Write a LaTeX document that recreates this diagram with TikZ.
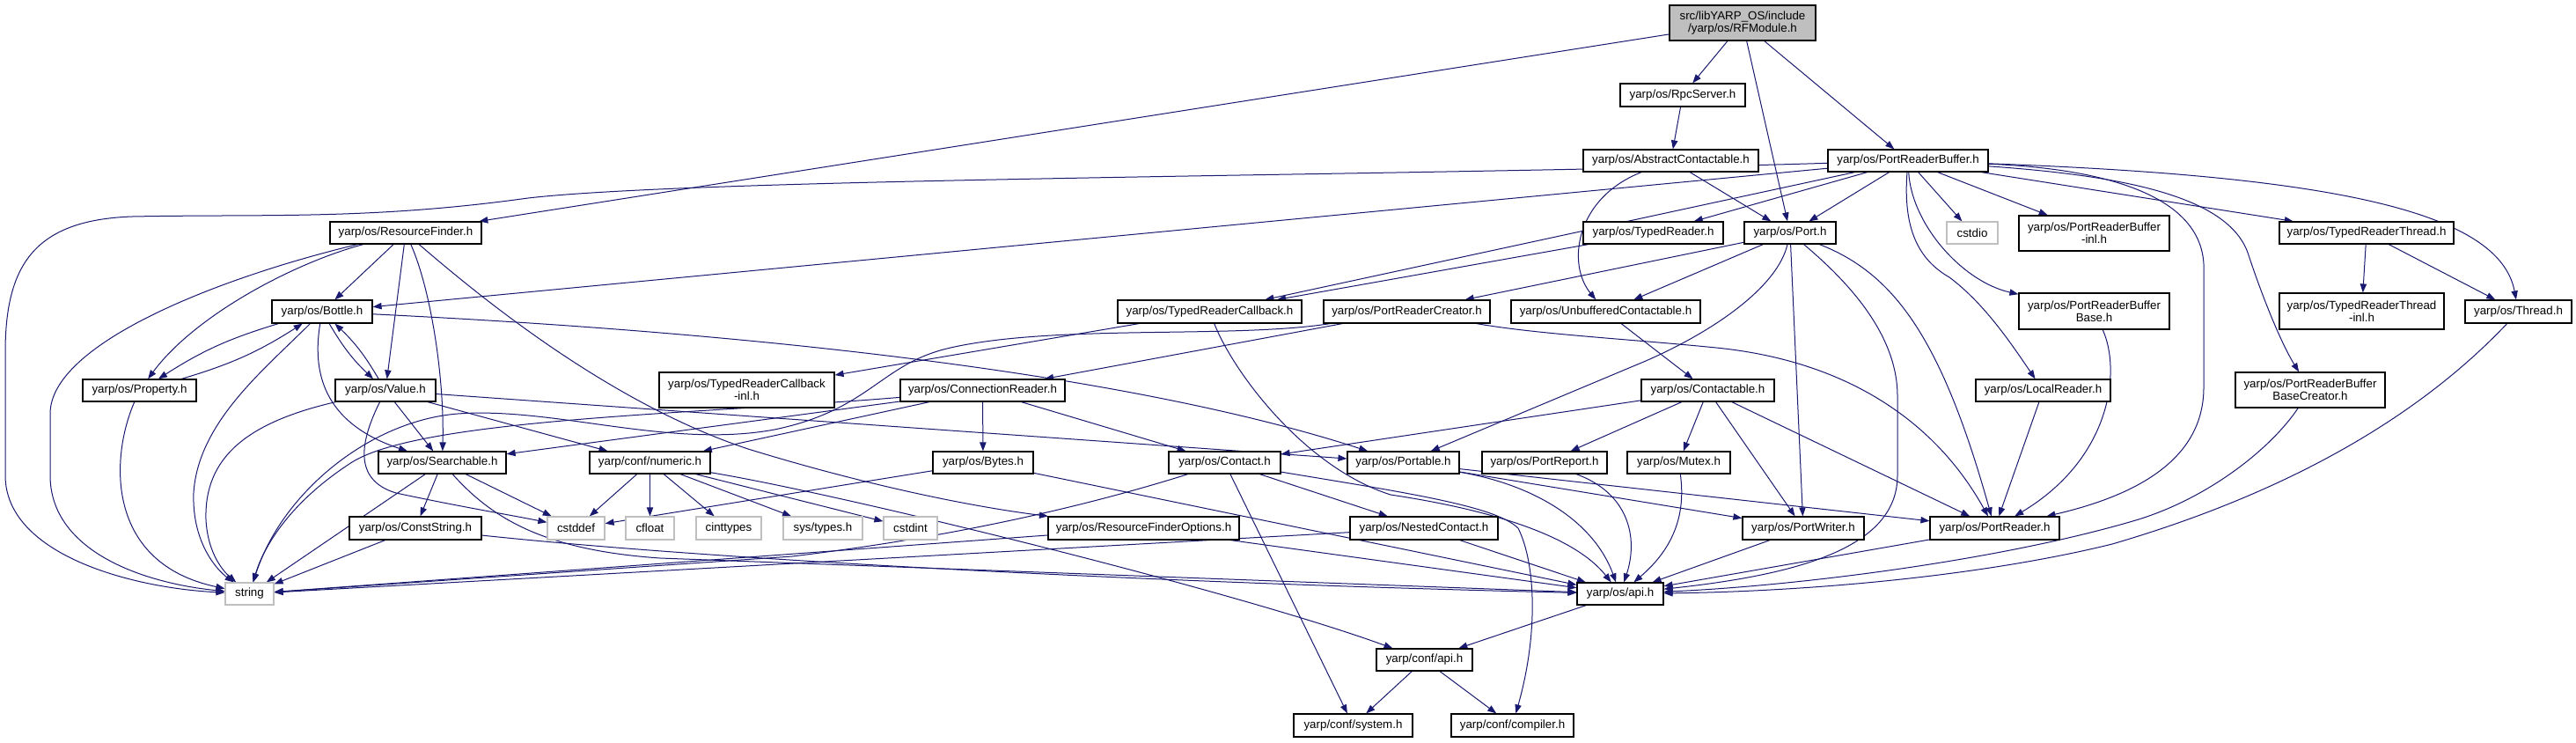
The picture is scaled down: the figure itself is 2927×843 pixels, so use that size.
\documentclass[tikz,border=0pt]{standalone}
\usepackage{fontspec}
\setmainfont{Liberation Sans}
\usetikzlibrary{arrows.meta}
\pgfdeclarelayer{bg}
\pgfsetlayers{bg,main}
\definecolor{edgec}{HTML}{191970}
\definecolor{lightg}{HTML}{BFBFBF}
\definecolor{rootg}{HTML}{BFBFBF}
\tikzset{
  nd/.style={draw=black, line width=0.9pt, rectangle, inner sep=0pt, align=center,
    font=\fontsize{10}{10.5}\selectfont, fill=white},
  sys/.style={nd, draw=lightg},
  rootnode/.style={nd, fill=rootg},
  sz/.style 2 args={minimum width=#1*0.75pt, minimum height=#2*0.75pt},
  dep/.style={draw=edgec, line width=0.75pt, -{Triangle[length=7.5pt,width=5.5pt]}},
}
\begin{document}
\begin{tikzpicture}[x=0.75pt,y=-0.75pt]
\useasboundingbox (0,0) rectangle (2927,843);
\begin{pgfonlayer}{bg}
\fill[white] (0,0) rectangle (2927,843);
\end{pgfonlayer}
% nodes
\node[rootnode,sz={166}{40}] (rfm) at (1980,26) {src/libYARP\_OS/include\\/yarp/os/RFModule.h};
\node[nd,sz={142}{26}] (rpc) at (1912,108) {yarp/os/RpcServer.h};
\node[nd,sz={199}{25}] (absc) at (1898.5,182.5) {yarp/os/AbstractContactable.h};
\node[nd,sz={182}{25}] (prb) at (2168,182.5) {yarp/os/PortReaderBuffer.h};
\node[nd,sz={172}{25}] (rf) at (461,264.5) {yarp/os/ResourceFinder.h};
\node[nd,sz={159}{25}] (tr) at (1878.5,264.5) {yarp/os/TypedReader.h};
\node[nd,sz={104}{25}] (port) at (2034,264.5) {yarp/os/Port.h};
\node[sys,sz={58}{25}] (cstdio) at (2241,264.5) {cstdio};
\node[nd,sz={171}{40}] (prbinl) at (2379.5,265) {yarp/os/PortReaderBuffer\\-inl.h};
\node[nd,sz={198}{25}] (trt) at (2689,264.5) {yarp/os/TypedReaderThread.h};
\node[nd,sz={114}{26}] (bottle) at (366,354) {yarp/os/Bottle.h};
\node[nd,sz={209}{26}] (trc) at (1374.5,354) {yarp/os/TypedReaderCallback.h};
\node[nd,sz={189}{26}] (prc) at (1598.5,354) {yarp/os/PortReaderCreator.h};
\node[nd,sz={215}{26}] (ubc) at (1824.5,354) {yarp/os/UnbufferedContactable.h};
\node[nd,sz={171}{41}] (prbbase) at (2379.5,353.5) {yarp/os/PortReaderBuffer\\Base.h};
\node[nd,sz={187}{41}] (trtinl) at (2683.5,353.5) {yarp/os/TypedReaderThread\\-inl.h};
\node[nd,sz={121}{26}] (thread) at (2861.5,354) {yarp/os/Thread.h};
\node[nd,sz={129}{25}] (property) at (158.5,443.5) {yarp/os/Property.h};
\node[nd,sz={114}{25}] (value) at (438,443.5) {yarp/os/Value.h};
\node[nd,sz={199}{40}] (trcinl) at (848.5,443) {yarp/os/TypedReaderCallback\\-inl.h};
\node[nd,sz={187}{25}] (cr) at (1116.5,443.5) {yarp/os/ConnectionReader.h};
\node[nd,sz={151}{25}] (contactable) at (1940.5,443.5) {yarp/os/Contactable.h};
\node[nd,sz={153}{25}] (localreader) at (2321.5,443.5) {yarp/os/LocalReader.h};
\node[nd,sz={170}{40}] (prbbc) at (2625,443) {yarp/os/PortReaderBuffer\\BaseCreator.h};
\node[nd,sz={145}{25}] (searchable) at (502.5,525.5) {yarp/os/Searchable.h};
\node[nd,sz={137}{25}] (numeric) at (738.5,525.5) {yarp/conf/numeric.h};
\node[nd,sz={114}{25}] (bytes) at (1117,525.5) {yarp/os/Bytes.h};
\node[nd,sz={127}{25}] (contact) at (1391.5,525.5) {yarp/os/Contact.h};
\node[nd,sz={127}{25}] (portable) at (1594.5,525.5) {yarp/os/Portable.h};
\node[nd,sz={142}{25}] (portreport) at (1755,525.5) {yarp/os/PortReport.h};
\node[nd,sz={117}{25}] (mutex) at (1907.5,525.5) {yarp/os/Mutex.h};
\node[nd,sz={150}{26}] (conststring) at (472,600) {yarp/os/ConstString.h};
\node[sys,sz={65}{26}] (cstddef) at (654.5,600) {cstddef};
\node[sys,sz={55}{26}] (cfloat) at (738.5,600) {cfloat};
\node[sys,sz={74}{26}] (cinttypes) at (828,600) {cinttypes};
\node[sys,sz={90}{26}] (systypes) at (935,600) {sys/types.h};
\node[sys,sz={61}{26}] (cstdint) at (1034.5,600) {cstdint};
\node[nd,sz={217}{26}] (rfo) at (1299.5,600) {yarp/os/ResourceFinderOptions.h};
\node[nd,sz={168}{26}] (nested) at (1618,600) {yarp/os/NestedContact.h};
\node[nd,sz={138}{26}] (portwriter) at (2049,600) {yarp/os/PortWriter.h};
\node[nd,sz={147}{26}] (portreader) at (2266.5,600) {yarp/os/PortReader.h};
\node[sys,sz={55}{25}] (string) at (283.5,674.5) {string};
\node[nd,sz={98}{25}] (api) at (1841,674.5) {yarp/os/api.h};
\node[nd,sz={109}{25}] (confapi) at (1618.5,749.5) {yarp/conf/api.h};
\node[nd,sz={135}{26}] (system) at (1537.5,824) {yarp/conf/system.h};
\node[nd,sz={139}{26}] (compiler) at (1718.5,824) {yarp/conf/compiler.h};
% edges
\begin{pgfonlayer}{bg}
\draw[dep] (rfm) -- (rf);
\draw[dep] (rfm) -- (rpc);
\draw[dep] (rfm) -- (port);
\draw[dep] (rfm) -- (prb);
\draw[dep] (rpc) -- (absc);
\draw[dep] (absc) -- (port);
\draw[dep] (absc) .. controls (1790,225) and (1780,300) .. (ubc);
% PortReaderBuffer
\draw[dep] (prb) .. controls (1600,200) and (800,202) .. (600,225) .. controls (420,250) and (300,243) .. (150,246) .. controls (40,250) and (6,300) .. (6,400) -- (6,540) .. controls (6,630) and (150,668) .. (string);
\draw[dep] (prb) -- (bottle);
\draw[dep] (prb) -- (trc);
\draw[dep] (prb) -- (tr);
\draw[dep] (prb) -- (port);
\draw[dep] (prb) -- (cstdio);
\draw[dep] (prb) -- (prbinl);
\draw[dep] (prb) .. controls (2172,255) and (2230,320) .. (prbbase);
\draw[dep] (prb) .. controls (2162,260) and (2180,295) .. (2215,315) .. controls (2255,345) and (2285,390) .. (localreader);
\draw[dep] (prb) .. controls (2400,192) and (2500,225) .. (2504,300) -- (2504,440) .. controls (2504,515) and (2440,560) .. (portreader);
\draw[dep] (prb) .. controls (2420,200) and (2535,225) .. (2555,290) .. controls (2575,350) and (2595,395) .. (prbbc);
\draw[dep] (prb) -- (trt);
\draw[dep] (prb) .. controls (2650,200) and (2840,240) .. (thread);
\draw[dep] (trt) -- (trtinl);
\draw[dep] (trt) -- (thread);
\draw[dep] (tr) -- (trc);
% Port
\draw[dep] (port) -- (prc);
\draw[dep] (port) -- (ubc);
\draw[dep] (port) .. controls (2020,325) and (1950,375) .. (1870,410) -- (portable);
\draw[dep] (port) -- (portwriter);
\draw[dep] (port) .. controls (2100,320) and (2156,380) .. (2156,450) -- (2156,540) .. controls (2156,620) and (2050,652) .. (api);
\draw[dep] (port) .. controls (2150,310) and (2205,380) .. (portreader);
% PortReaderCreator
\draw[dep] (prc) -- (cr);
\draw[dep] (prc) .. controls (1400,385) and (1200,368) .. (1080,395) .. controls (1000,413) and (990,465) .. (880,488) .. controls (760,510) and (630,462) .. (520,470) .. controls (420,478) and (320,560) .. (string);
\draw[dep] (prc) .. controls (1750,380) and (1850,385) .. (1950,395) .. controls (2100,410) and (2200,480) .. (portreader);
% TypedReaderCallback
\draw[dep] (trc) -- (trcinl);
\draw[dep] (trc) .. controls (1400,420) and (1480,530) .. (1580,562) .. controls (1700,580) and (1790,610) .. (api);
\draw[dep] (ubc) -- (contactable);
% ConnectionReader
\draw[dep] (cr) -- (bytes);
\draw[dep] (cr) -- (contact);
\draw[dep] (cr) -- (searchable);
\draw[dep] (cr) -- (numeric);
\draw[dep] (cr) .. controls (800,470) and (480,475) .. (400,525) .. controls (330,570) and (300,620) .. (string);
% Contactable
\draw[dep] (contactable) -- (contact);
\draw[dep] (contactable) -- (portreport);
\draw[dep] (contactable) -- (mutex);
\draw[dep] (contactable) -- (portwriter);
\draw[dep] (contactable) -- (portreader);
\draw[dep] (localreader) -- (portreader);
\draw[dep] (prbbase) .. controls (2410,420) and (2400,520) .. (portreader);
\draw[dep] (prbbc) .. controls (2580,510) and (2510,565) .. (2430,590) .. controls (2280,635) and (2050,665) .. (api);
\draw[dep] (thread) .. controls (2780,440) and (2650,545) .. (2400,618) .. controls (2250,655) and (2050,672) .. (api);
\draw[dep] (portreader) -- (api);
\draw[dep] (portwriter) -- (api);
% Portable and friends
\draw[dep] (portable) .. controls (1740,550) and (1810,590) .. (api);
\draw[dep] (portable) -- (portwriter);
\draw[dep] (portable) -- (portreader);
\draw[dep] (portreport) .. controls (1850,560) and (1862,610) .. (api);
\draw[dep] (mutex) .. controls (1915,580) and (1905,620) .. (api);
% Contact
\draw[dep] (contact) -- (nested);
\draw[dep] (contact) -- (system);
\draw[dep] (contact) .. controls (1600,560) and (1700,575) .. (1725,600) .. controls (1745,640) and (1748,720) .. (compiler);
\draw[dep] (contact) .. controls (1250,570) and (1100,608) .. (900,632) -- (string);
\draw[dep] (nested) -- (api);
\draw[dep] (nested) -- (string);
\draw[dep] (rfo) -- (string);
\draw[dep] (rfo) -- (api);
\draw[dep] (bytes) -- (cstddef);
\draw[dep] (bytes) -- (api);
% left part
\draw[dep] (bottle) to[bend right=8] (property);
\draw[dep] (property) to[bend right=8] (bottle);
\draw[dep] (bottle) to[bend right=8] (value);
\draw[dep] (value) to[bend right=8] (bottle);
\draw[dep] (bottle) .. controls (355,420) and (365,480) .. (searchable);
\draw[dep] (bottle) .. controls (300,420) and (225,480) .. (220,560) .. controls (218,620) and (250,650) .. (string);
\draw[dep] (bottle) .. controls (900,380) and (1300,430) .. (portable);
\draw[dep] (property) .. controls (125,520) and (120,640) .. (string);
\draw[dep] (value) .. controls (280,480) and (232,520) .. (234,590) .. controls (236,630) and (255,650) .. (string);
\draw[dep] (value) .. controls (410,500) and (400,545) .. (450,560) .. controls (520,575) and (580,585) .. (cstddef);
\draw[dep] (value) -- (searchable);
\draw[dep] (value) -- (numeric);
\draw[dep] (value) -- (portable);
\draw[dep] (searchable) -- (string);
\draw[dep] (searchable) -- (conststring);
\draw[dep] (searchable) -- (cstddef);
\draw[dep] (searchable) .. controls (560,590) and (620,625) .. (750,634) -- (api);
\draw[dep] (conststring) -- (string);
\draw[dep] (conststring) .. controls (800,635) and (1300,662) .. (api);
\draw[dep] (numeric) -- (cstddef);
\draw[dep] (numeric) -- (cfloat);
\draw[dep] (numeric) -- (cinttypes);
\draw[dep] (numeric) -- (systypes);
\draw[dep] (numeric) -- (cstdint);
\draw[dep] (numeric) .. controls (950,560) and (1400,670) .. (confapi);
% ResourceFinder
\draw[dep] (rf) .. controls (330,300) and (220,360) .. (property);
\draw[dep] (rf) .. controls (250,315) and (57,390) .. (57,470) -- (57,540) .. controls (57,625) and (160,662) .. (string);
\draw[dep] (rf) -- (bottle);
\draw[dep] (rf) -- (value);
\draw[dep] (rf) .. controls (490,330) and (505,430) .. (searchable);
\draw[dep] (rf) .. controls (560,350) and (700,460) .. (850,510) .. controls (980,550) and (1100,575) .. (rfo);
% bottom
\draw[dep] (api) -- (confapi);
\draw[dep] (confapi) -- (system);
\draw[dep] (confapi) -- (compiler);
\end{pgfonlayer}
\end{tikzpicture}
\end{document}
